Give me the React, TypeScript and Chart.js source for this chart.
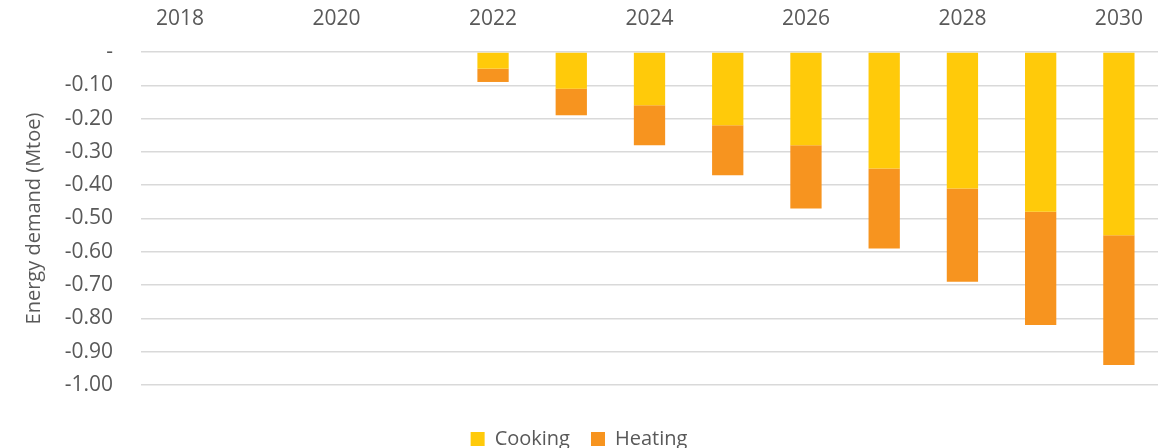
import React, { useEffect, useRef } from "react";
import { Chart, registerables } from "chart.js";

Chart.register(...registerables);

const years = ["2018", "2019", "2020", "2021", "2022", "2023", "2024", "2025", "2026", "2027", "2028", "2029", "2030"];
const cooking = [null, null, null, null, -0.05, -0.11, -0.16, -0.22, -0.28, -0.35, -0.41, -0.48, -0.55];
const heating = [null, null, null, null, -0.04, -0.08, -0.12, -0.15, -0.19, -0.24, -0.28, -0.34, -0.39];

const FONT = "'Open Sans', sans-serif";
const TEXT = "#595959";

export default function App() {
  const ref = useRef<HTMLCanvasElement | null>(null);
  useEffect(() => {
    document.body.style.margin = "0";
    if (!ref.current) return;
    const chart = new Chart(ref.current, {
      type: "bar",
      data: {
        labels: years,
        datasets: [
          { label: "Cooking", data: cooking as any, backgroundColor: "#FFCA0A", borderWidth: 0 },
          { label: "Heating", data: heating as any, backgroundColor: "#F7941F", borderWidth: 0 },
        ],
      },
      options: {
        responsive: false,
        animation: false,
        layout: { padding: { left: 0, right: 2, top: 0, bottom: -11 } },
        datasets: { bar: { categoryPercentage: 0.8, barPercentage: 0.5 } },
        plugins: {
          legend: {
            position: "bottom",
            labels: { boxWidth: 14, boxHeight: 14, padding: 21, color: TEXT, font: { family: FONT, size: 20 } },
          },
          tooltip: { enabled: false },
        },
        scales: {
          x: {
            position: "top",
            stacked: true,
            grid: { display: false },
            border: { display: false },
            ticks: {
              color: TEXT,
              font: { family: FONT, size: 21 },
              autoSkip: false,
              maxRotation: 0,
              padding: 12,
              callback: function (this: any, _v: any, i: number) {
                return i % 2 === 0 ? years[i] : "";
              },
            },
            afterFit: (s: any) => { s.height = 52; },
          },
          x2: {
            position: "bottom",
            display: true,
            grid: { display: false },
            border: { display: false },
            ticks: { display: false },
            afterFit: (s: any) => { s.height = 23; },
          },
          y: {
            stacked: true,
            min: -1,
            max: 0,
            grid: { color: "#d9d9d9", lineWidth: 1.5, drawTicks: false },
            border: { display: false },
            ticks: {
              stepSize: 0.1,
              color: TEXT,
              padding: 28,
              font: { family: FONT, size: 21 },
              callback: (v: any) => {
                const n = Number(v);
                if (Math.abs(n) < 1e-9) return "-";
                return n.toFixed(2);
              },
            },
            title: {
              display: true,
              text: "Energy demand (Mtoe)",
              color: TEXT,
              font: { family: FONT, size: 20 },
              padding: { top: 22, bottom: 0 },
            },
            afterFit: (s: any) => { s.width = 141; },
          },
        },
      },
    });
    return () => chart.destroy();
  }, []);
  return <canvas ref={ref} width={1160} height={448} style={{ display: "block" }} />;
}
